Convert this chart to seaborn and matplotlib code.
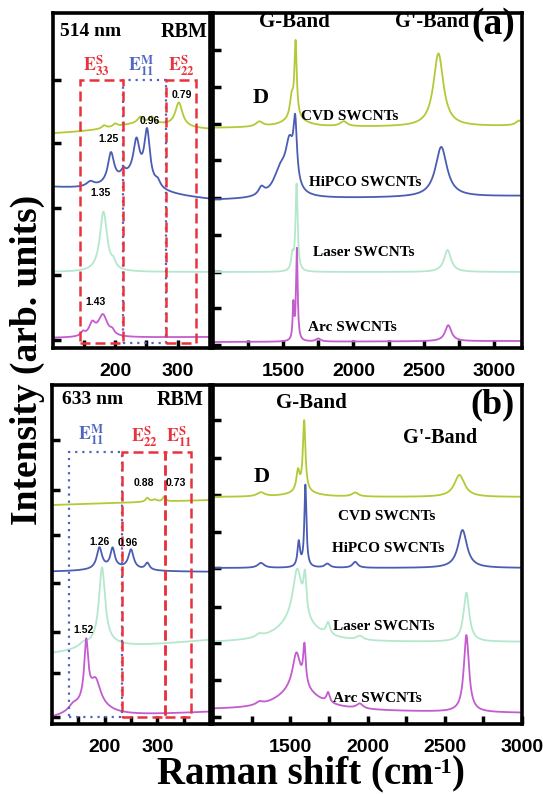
import numpy as np
import pandas as pd
import matplotlib
matplotlib.use("Agg")
import matplotlib.pyplot as plt
from matplotlib.patches import Rectangle
import seaborn as sns

# ---------------- data ----------------
samples = ["CVD SWCNTs", "HiPCO SWCNTs", "Laser SWCNTs", "Arc SWCNTs"]
colors = ["#b5c936", "#4b5db2", "#b4e8cc", "#c35ccf"]

# peaks: (centre cm-1, height, FWHM); base: (left level, right level)
# (a) 514 nm, RBM region
a_rbm_cvd_base = [213, 216]
a_rbm_cvd_peaks = [(245, 10, 140), (182, 3, 8), (200, 3, 8), (240, 6, 10), (258, 6, 10), (302, 24, 14)]
a_rbm_hipco_base = [160, 148]
a_rbm_hipco_peaks = [(225, 16, 70), (160, 5, 15), (193, 30, 12), (213, 6, 8), (234, 36, 12), (251, 52, 11), (268, 6, 10)]
a_rbm_laser_base = [76, 76]
a_rbm_laser_peaks = [(181, 60, 14), (197, 6, 8)]
a_rbm_arc_base = [10, 11]
a_rbm_arc_peaks = [(148, 4, 8), (163, 12, 12), (180, 22, 18), (195, 4, 8)]

# (a) 514 nm, D / G / G' region
a_g_cvd_base = [220, 222]
a_g_cvd_peaks = [(1330, 5, 60), (1580, 8, 200), (1560, 20, 30), (1588, 75, 20), (1930, 5, 60), (2605, 73, 85), (3180, 5, 60)]
a_g_hipco_base = [148, 152]
a_g_hipco_peaks = [(1345, 8, 50), (1480, 25, 120), (1545, 45, 70), (1585, 59, 30), (2625, 50, 100)]
a_g_laser_base = [76, 76]
a_g_laser_peaks = [(1565, 15, 20), (1595, 87, 18), (2670, 22, 60)]
a_g_arc_base = [6, 7]
a_g_arc_peaks = [(1572, 35, 12), (1597, 92, 14), (1750, 3, 40), (2675, 16, 55)]

# (b) 633 nm, RBM region
b_rbm_cvd_base = [223, 228]
b_rbm_cvd_peaks = [(281, 4, 8), (295, 2, 10), (313, 5, 6)]
b_rbm_hipco_base = [156, 156]
b_rbm_hipco_peaks = [(220, 4, 100), (190, 21, 12), (215, 19, 10), (250, 19, 12), (281, 7, 10)]
b_rbm_laser_base = [74, 88]
b_rbm_laser_peaks = [(195, 76, 14), (195, 6, 80), (160, 4, 20)]
b_rbm_arc_base = [8, 16]
b_rbm_arc_peaks = [(165, 58, 9), (183, 22, 22), (172, 16, 70), (140, 5, 20)]

# (b) 633 nm, D / G / G' region
b_g_cvd_base = [231, 231]
b_g_cvd_peaks = [(1310, 4, 60), (1580, 5, 200), (1550, 20, 25), (1590, 70, 20), (1920, 4, 50), (2595, 22, 80)]
b_g_hipco_base = [160, 160]
b_g_hipco_peaks = [(1310, 5, 50), (1555, 25, 20), (1598, 82, 16), (1740, 4, 40), (1920, 6, 40), (2615, 38, 70)]
b_g_laser_base = [85, 86]
b_g_laser_peaks = [(1300, 3, 50), (1540, 20, 300), (1545, 52, 70), (1595, 38, 24), (1745, 12, 30), (1950, 4, 50), (2640, 49, 45)]
b_g_arc_base = [18, 15]
b_g_arc_peaks = [(1300, 3, 50), (1550, 22, 300), (1540, 35, 60), (1592, 39, 20), (1745, 10, 25), (1950, 5, 50), (2640, 77, 40)]

# energy windows (cm-1) for the RBM boxes
a_windows = [("E33S", 144, 213), ("E11M", 213, 282), ("E22S", 282, 329)]
b_windows = [("E11M", 133, 233), ("E22S", 233, 315), ("E11S", 315, 363)]

# ---------------- helpers ----------------
def spectrum(x, base, peaks):
    y = base[0] + (base[1] - base[0]) * (x - x[0]) / (x[-1] - x[0])
    for c, h, w in peaks:
        y = y + h / (1.0 + ((x - c) / (w / 2.0)) ** 2)
    return y

def frame(xlim, specs):
    x = np.linspace(xlim[0], xlim[1], 2500)
    rows = []
    for name, (base, peaks) in zip(samples, specs):
        rows.append(pd.DataFrame({"shift": x, "intensity": spectrum(x, base, peaks), "sample": name}))
    return pd.concat(rows, ignore_index=True)

sns.set_theme(style="white")
plt.rcParams["font.family"] = ["Liberation Serif", "DejaVu Serif"]
plt.rcParams["mathtext.fontset"] = "stix"
plt.rcParams["text.color"] = "black"
plt.rcParams["xtick.color"] = "black"
plt.rcParams["ytick.color"] = "black"
plt.rcParams["axes.labelcolor"] = "black"

RED = "#e8333d"
BLUE = "#5066c0"
SANS = "Liberation Sans"

fig = plt.figure(figsize=(5.43, 7.94), dpi=100)
W, H = 543.0, 794.0
ax_al = fig.add_axes([53 / W, 1 - 348 / H, 157 / W, 335 / H])
ax_ar = fig.add_axes([213 / W, 1 - 348 / H, 309 / W, 335 / H])
ax_bl = fig.add_axes([52 / W, 1 - 724 / H, 158 / W, 339 / H])
ax_br = fig.add_axes([213 / W, 1 - 724 / H, 309 / W, 339 / H])

panels = [
    (ax_al, (100, 352), (0, 335), [a_rbm_cvd_base, a_rbm_hipco_base, a_rbm_laser_base, a_rbm_arc_base],
     [a_rbm_cvd_peaks, a_rbm_hipco_peaks, a_rbm_laser_peaks, a_rbm_arc_peaks],
     [150, 200, 250, 300], [200, 300], [8, 73, 140, 205, 268]),
    (ax_ar, (1000, 3200), (0, 335), [a_g_cvd_base, a_g_hipco_base, a_g_laser_base, a_g_arc_base],
     [a_g_cvd_peaks, a_g_hipco_peaks, a_g_laser_peaks, a_g_arc_peaks],
     [1250, 1500, 1750, 2000, 2250, 2500, 2750, 3000], [1500, 2000, 2500, 3000],
     [3, 40, 76, 113, 150, 188, 224, 261, 298]),
    (ax_bl, (100, 400), (4, 343), [b_rbm_cvd_base, b_rbm_hipco_base, b_rbm_laser_base, b_rbm_arc_base],
     [b_rbm_cvd_peaks, b_rbm_hipco_peaks, b_rbm_laser_peaks, b_rbm_arc_peaks],
     [150, 200, 250, 300, 350], [200, 300], [11, 55, 96, 145, 193, 238, 288]),
    (ax_br, (1000, 3000), (4, 343), [b_g_cvd_base, b_g_hipco_base, b_g_laser_base, b_g_arc_base],
     [b_g_cvd_peaks, b_g_hipco_peaks, b_g_laser_peaks, b_g_arc_peaks],
     [1250, 1500, 1750, 2000, 2250, 2500, 2750, 3000], [1500, 2000, 2500, 3000],
     [11, 48, 85, 121, 160, 196, 233, 270, 308]),
]

pal = dict(zip(samples, colors))
for ax, xlim, ylim, bases, peaks, ticks, labelled, yt in panels:
    df = frame(xlim, list(zip(bases, peaks)))
    sns.lineplot(data=df, x="shift", y="intensity", hue="sample", palette=pal,
                 ax=ax, legend=False, linewidth=1.3, estimator=None, sort=False)
    ax.set_xlim(*xlim)
    ax.set_ylim(*ylim)
    ax.set_xlabel("")
    ax.set_ylabel("")
    ax.set_xticks(ticks)
    ax.set_xticklabels([str(t) if t in labelled else "" for t in ticks],
                       fontfamily=SANS, fontweight="bold", fontsize=14, color="black")
    ax.set_yticks(yt)
    ax.set_yticklabels([])
    ax.tick_params(axis="both", direction="in", length=6, width=2.5, pad=11,
                   bottom=True, left=True, top=False, right=False, colors="black")
    for sp in ax.spines.values():
        sp.set_linewidth(2.6)
        sp.set_color("black")

# ---------------- RBM boxes ----------------
def draw_boxes(ax, windows, y0, y1):
    for name, x0, x1 in windows:
        if name.endswith("M"):
            ax.add_patch(Rectangle((x0, y0), x1 - x0, y1 - y0, fill=False, ec=BLUE,
                                   lw=1.6, ls=(0, (1, 2.2)), zorder=3))
    for name, x0, x1 in windows:
        if name.endswith("S"):
            ax.add_patch(Rectangle((x0, y0), x1 - x0, y1 - y0, fill=False, ec=RED,
                                   lw=1.8, ls=(0, (4, 2)), zorder=3))

draw_boxes(ax_al, a_windows, 5, 268)
draw_boxes(ax_bl, b_windows, 11, 276)

def elabel(ax, x, y, sub, sup, color):
    ax.text(x, y, r"$\mathbf{E}_{\mathbf{%s}}^{\mathbf{%s}}$" % (sub, sup), color=color,
            fontsize=13, ha="center", va="center")

serif_b = dict(fontweight="bold", ha="center", va="center", color="black")
num = dict(fontfamily=SANS, fontweight="bold", fontsize=7.5, ha="center", va="center", color="black")

# panel (a) left
ax_al.text(161, 316, "514 nm", fontsize=14, **serif_b)
ax_al.text(310, 316, "RBM", fontsize=14.5, **serif_b)
elabel(ax_al, 169, 282, "33", "S", RED)
elabel(ax_al, 242, 282, "11", "M", BLUE)
elabel(ax_al, 306, 282, "22", "S", RED)
for t, x, y in [("1.43", 169, 46), ("1.35", 177, 155), ("1.25", 189, 209), ("0.96", 255, 227), ("0.79", 306, 253)]:
    ax_al.text(x, y, t, **num)

# panel (a) right
ax_ar.text(1579, 326, "G-Band", fontsize=15, **serif_b)
ax_ar.text(2557, 326, "G'-Band", fontsize=14.5, **serif_b)
ax_ar.text(2993, 323, "(a)", fontsize=27, **serif_b)
ax_ar.text(1336, 250, "D", fontsize=16, **serif_b)
for t, x, y in [("CVD SWCNTs", 1971, 231), ("HiPCO SWCNTs", 2086, 166),
                ("Laser SWCNTs", 2071, 95), ("Arc SWCNTs", 1993, 20)]:
    ax_ar.text(x, y, t, fontsize=11, **serif_b)

# panel (b) left
ax_bl.text(177, 328, "633 nm", fontsize=14, **serif_b)
ax_bl.text(344, 328, "RBM", fontsize=14.5, **serif_b)
elabel(ax_bl, 175, 293, "11", "M", BLUE)
elabel(ax_bl, 275, 291, "22", "S", RED)
elabel(ax_bl, 342, 291, "11", "S", RED)
for t, x, y in [("0.88", 275, 245), ("0.73", 335, 245), ("1.26", 190, 186), ("0.96", 244, 185), ("1.52", 160, 98)]:
    ax_bl.text(x, y, t, **num)

# panel (b) right
ax_br.text(1637, 325, "G-Band", fontsize=15, **serif_b)
ax_br.text(2467, 290, "G'-Band", fontsize=14.5, **serif_b)
ax_br.text(2807, 323, "(b)", fontsize=26, **serif_b)
ax_br.text(1317, 251, "D", fontsize=16, **serif_b)
for t, x, y in [("CVD SWCNTs", 2121, 211), ("HiPCO SWCNTs", 2134, 180),
                ("Laser SWCNTs", 2108, 101), ("Arc SWCNTs", 2062, 30)]:
    ax_br.text(x, y, t, fontsize=11, **serif_b)

# shared axis labels
fig.text(27 / W, 1 - 360 / H, "Intensity (arb. units)", rotation=90, fontsize=27,
         fontweight="bold", ha="center", va="center", color="black")

# x label built from pieces so that "-1" is a small superscript with a short hyphen
renderer = fig.canvas.get_renderer()
parts = [("Raman shift (cm", 28, 0.0), ("-1", 16, 10.0), (")", 28, 0.0)]
widths = []
for txt, fs, _ in parts:
    tmp = fig.text(0, 0, txt, fontsize=fs, fontweight="bold")
    widths.append(tmp.get_window_extent(renderer).width)
    tmp.remove()
xpix = 311 - sum(widths) / 2.0
ybase = H - 783
for (txt, fs, dy), w in zip(parts, widths):
    fig.text(xpix / W, (ybase + dy) / H, txt, fontsize=fs, fontweight="bold",
             ha="left", va="baseline", color="black")
    xpix += w

fig.savefig("out.png", dpi=100)
